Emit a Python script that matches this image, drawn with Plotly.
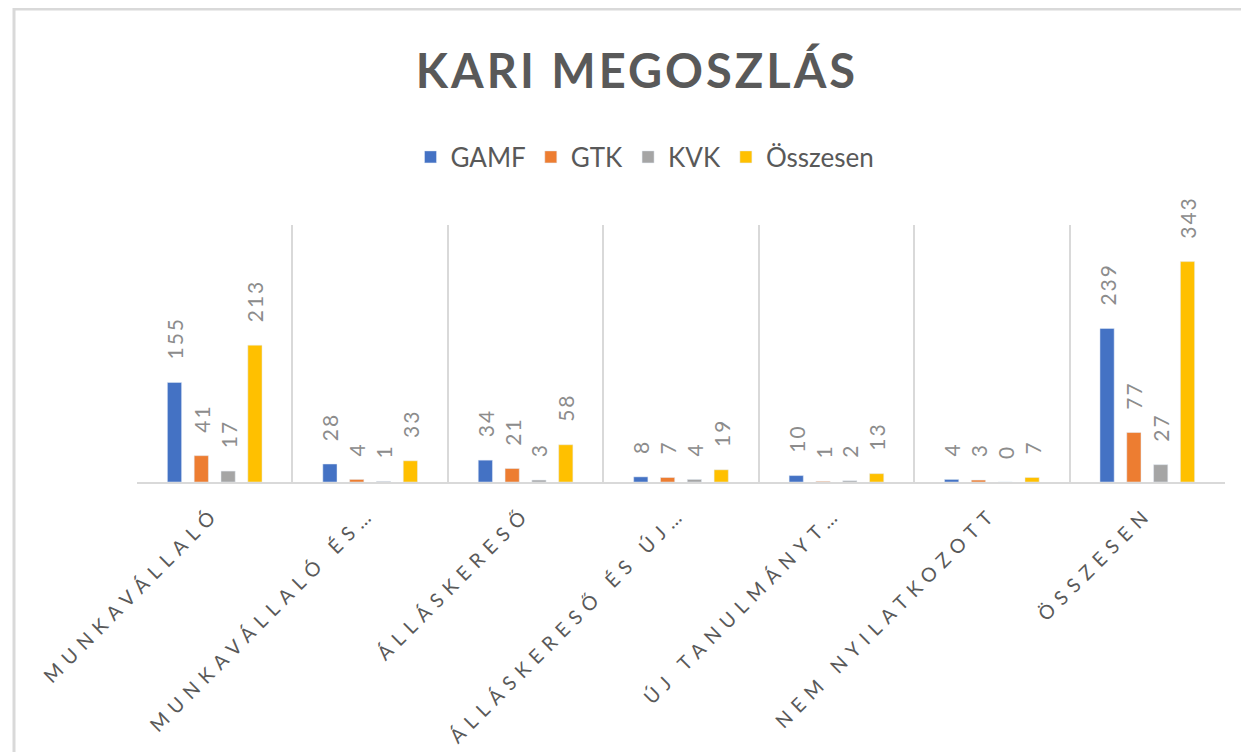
import plotly.graph_objects as go

categories = ["MUNKAVÁLLALÓ", "MUNKAVÁLLALÓ ÉS…", "ÁLLÁSKERESŐ", "ÁLLÁSKERESŐ ÉS ÚJ…",
              "ÚJ TANULMÁNYT…", "NEM NYILATKOZOTT", "ÖSSZESEN"]
gamf = [155, 28, 34, 8, 10, 4, 239]
gtk = [41, 4, 21, 7, 1, 3, 77]
kvk = [17, 1, 3, 4, 2, 0, 27]
osszesen = [213, 33, 58, 19, 13, 7, 343]

series = [("GAMF", gamf, "#4472C4"), ("GTK", gtk, "#ED7D31"),
          ("KVK", kvk, "#A5A5A5"), ("Összesen", osszesen, "#FFC000")]

OFF = 8  # default page body margin
W, H = 1249 - OFF, 752 - OFF
# plot area in reference pixel coordinates
PL, PR, PT, PB = 137, 1225, 225, 482
L, R, T, B = PL - OFF, W - (PR - OFF), PT - OFF, H - (PB - OFF)
pw, ph = W - L - R, H - T - B

def px2x(px):
    return (px - OFF - L) / pw

def px2y(py):
    return (PB - py) / ph

fig = go.Figure()
for name, vals, col in series:
    fig.add_trace(go.Bar(
        x=categories, y=vals, name=name, marker_color=col,
        text=['<span style="letter-spacing:2px">\u2002\u00a0' + str(v) + '</span>' for v in vals],
        textposition="outside", textangle=-90,
        constraintext="none", cliponaxis=False,
        textfont=dict(family="Lato", size=21, color="#8C8C8C"),
    ))

ticktext = ['<span style="letter-spacing:7px">' + c + '</span>' for c in categories]

fig.update_layout(
    width=W, height=H,
    margin=dict(l=L, r=R, t=T, b=B, autoexpand=False),
    paper_bgcolor="white", plot_bgcolor="white",
    barmode="group", bargap=0.31, bargroupgap=0.47,
    title=dict(text='<span style="letter-spacing:3px"><b>KARI MEGOSZLÁS</b></span>',
               x=(637 - OFF) / W, xanchor="center", y=1 - (72 - OFF) / H, yanchor="middle",
               font=dict(family="Lato", size=47, color="#595959")),
    legend=dict(orientation="h", x=px2x(645), xanchor="center", y=px2y(157), yanchor="middle",
                font=dict(family="Lato", size=26, color="#595959"),
                itemwidth=30, traceorder="normal"),
    xaxis=dict(type="category", tickvals=categories, ticktext=ticktext, tickangle=-45,
               tickfont=dict(family="Lato", size=19.5, color="#595959"),
               showgrid=True, gridcolor="#D9D9D9", gridwidth=2, tickson="boundaries",
               ticks="", ticklabelstandoff=10, automargin=False,
               showline=True, linecolor="#D9D9D9", linewidth=2),
    yaxis=dict(range=[0, 400], visible=False, showgrid=False, zeroline=False, automargin=False),
    showlegend=True,
)

fig.add_shape(type="rect", xref="paper", yref="paper",
              x0=px2x(14), x1=px2x(1262), y0=px2y(765), y1=px2y(9),
              line=dict(color="#D9D9D9", width=3), fillcolor="rgba(0,0,0,0)", layer="below")

fig.write_html("out.html")
